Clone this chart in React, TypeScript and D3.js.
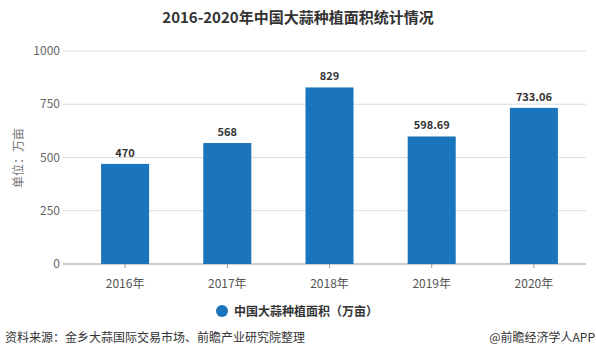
import React, { useRef, useEffect } from "react";
import * as d3 from "d3";

const years = ["2016年", "2017年", "2018年", "2019年", "2020年"];
const area = [470, 568, 829, 598.69, 733.06];
const areaLabels = ["470", "568", "829", "598.69", "733.06"];
const yTicks = [0, 250, 500, 750, 1000];

const W = 596;
const H = 363;
const FONT = "'Microsoft YaHei', 'Noto Sans CJK SC', 'Noto Sans', sans-serif";

export default function App() {
    const ref = useRef<SVGSVGElement | null>(null);

    useEffect(() => {
        const svg = d3.select(ref.current);
        svg.selectAll("*").remove();

        const x = d3.scaleBand<string>().domain(years).range([74, 585]).paddingInner(0.53).paddingOuter(0.265);
        const y = d3.scaleLinear().domain([0, 1000]).range([264, 51]);

        svg.append("rect").attr("width", W).attr("height", H).attr("fill", "#fff");

        // title
        svg.append("text")
            .attr("x", 298).attr("y", 23)
            .attr("text-anchor", "middle")
            .attr("font-size", 15).attr("font-weight", "bold")
            .attr("fill", "#333")
            .text("2016-2020年中国大蒜种植面积统计情况");

        // grid + y labels
        const grid = svg.append("g");
        yTicks.forEach((t) => {
            grid.append("line")
                .attr("x1", 63).attr("x2", 586)
                .attr("y1", y(t)).attr("y2", y(t))
                .attr("stroke", t === 0 ? "#999" : "#ddd")
                .attr("stroke-width", 1);
            grid.append("text")
                .attr("x", 60).attr("y", y(t) + 4)
                .attr("text-anchor", "end")
                .attr("font-size", 12).attr("fill", "#666")
                .text(t);
        });

        // y title
        svg.append("text")
            .attr("transform", `translate(23,${158}) rotate(-90)`)
            .attr("text-anchor", "middle")
            .attr("font-size", 12).attr("fill", "#777")
            .text("单位：万亩");

        // bars
        const bars = svg.append("g");
        years.forEach((yr, i) => {
            bars.append("rect")
                .attr("x", x(yr)!)
                .attr("y", y(area[i]))
                .attr("width", x.bandwidth())
                .attr("height", y(0) - y(area[i]))
                .attr("fill", "#1b75bc");
            bars.append("text")
                .attr("x", x(yr)! + x.bandwidth() / 2)
                .attr("y", y(area[i]) - 7)
                .attr("text-anchor", "middle")
                .attr("font-size", 11).attr("font-weight", "bold")
                .attr("fill", "#333")
                .text(areaLabels[i]);
            // tick
            bars.append("line")
                .attr("x1", x(yr)! + x.bandwidth() / 2).attr("x2", x(yr)! + x.bandwidth() / 2)
                .attr("y1", y(0)).attr("y2", y(0) + 4)
                .attr("stroke", "#999");
            bars.append("text")
                .attr("x", x(yr)! + x.bandwidth() / 2)
                .attr("y", 288)
                .attr("text-anchor", "middle")
                .attr("font-size", 12).attr("fill", "#555")
                .text(yr);
        });

        // legend
        svg.append("circle").attr("cx", 222).attr("cy", 311).attr("r", 6).attr("fill", "#1b75bc");
        svg.append("text")
            .attr("x", 234).attr("y", 315.5)
            .attr("font-size", 12).attr("font-weight", "bold")
            .attr("fill", "#333")
            .text("中国大蒜种植面积（万亩）");

        // footer
        svg.append("text")
            .attr("x", 5).attr("y", 342)
            .attr("font-size", 12).attr("fill", "#333")
            .text("资料来源：金乡大蒜国际交易市场、前瞻产业研究院整理");
        svg.append("text")
            .attr("x", 595).attr("y", 342)
            .attr("text-anchor", "end")
            .attr("font-size", 12).attr("fill", "#333")
            .text("@前瞻经济学人APP");
    }, []);

    return (
        <svg
            ref={ref}
            width={W}
            height={H}
            style={{ position: "absolute", left: 0, top: 0, fontFamily: FONT }}
        ></svg>
    );
}
